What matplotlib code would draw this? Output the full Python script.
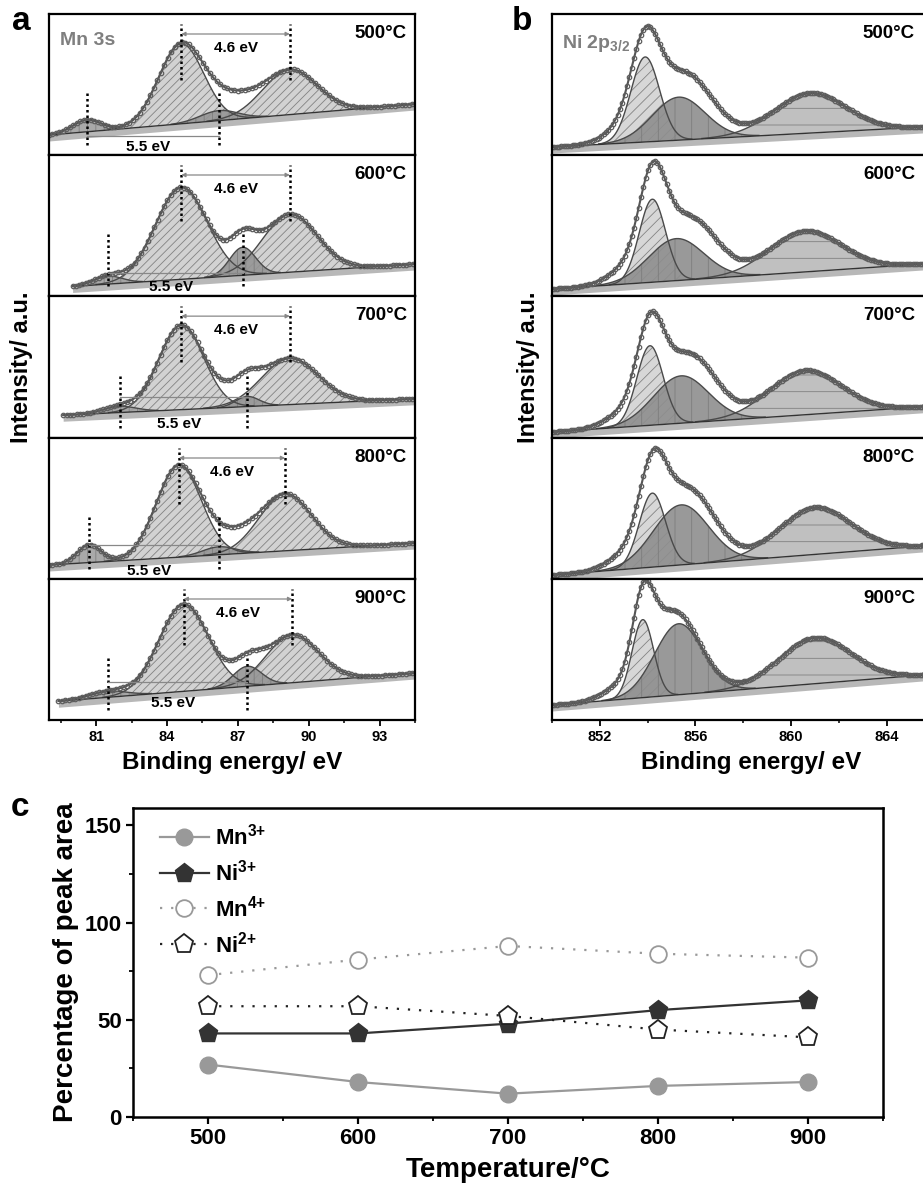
import numpy as np
import matplotlib.pyplot as plt
from matplotlib.ticker import MultipleLocator

plt.rcParams['font.family'] = ['Liberation Sans', 'DejaVu Sans']
plt.rcParams['font.weight'] = 'bold'
plt.rcParams['axes.labelweight'] = 'bold'
plt.rcParams['mathtext.fontset'] = 'custom'
plt.rcParams['mathtext.rm'] = 'Liberation Sans:bold'
plt.rcParams['mathtext.bf'] = 'Liberation Sans:bold'
plt.rcParams['mathtext.default'] = 'bf'
plt.rcParams['hatch.linewidth'] = 0.6

W, H = 923, 1193

temp_labels = ['500°C', '600°C', '700°C', '800°C', '900°C']

# ---- Mn 3s fits (centre eV, height, sigma) ----
mn_start = [79.0, 80.0, 79.6, 79.0, 79.4]
mn_bg_lo = [20, 8, 22, 14, 18]
mn_bg_hi = [51, 32, 39, 36, 47]
mn_main_pos = [84.6, 84.6, 84.6, 84.5, 84.7]
mn_main_amp = [80, 92, 84, 92, 87]
mn_main_sig = [0.95, 1.1, 0.95, 0.95, 1.05]
mn_split_pos = [89.2, 89.2, 89.2, 89.0, 89.3]
mn_split_amp = [45, 58, 46, 57, 48]
mn_split_sig = [1.15, 1.15, 1.2, 1.1, 1.1]
mn_low_pos = [80.6, 81.5, 82.0, 80.7, 81.5]
mn_low_amp = [12, 8, 6, 18, 6]
mn_low_sig = [0.6, 0.6, 0.7, 0.5, 0.8]
mn_sat_pos = [86.2, 87.2, 87.4, 86.2, 87.4]
mn_sat_amp = [10, 28, 10, 8, 20]
mn_sat_sig = [0.8, 0.55, 0.5, 0.7, 0.6]
mn_extra_pos = [87.1, 86.8, 87.0, 87.1, 87.5]
mn_extra_amp = [12, 0, 12, 10, 0]
mn_extra_sig = [0.8, 0.8, 0.8, 0.7, 0.8]

# ---- Ni 2p3/2 fits ----
ni_bg_lo = [8, 7, 6, 4, 15]
ni_bg_hi = [28, 32, 31, 33, 45]
ni_light_pos = [853.9, 854.2, 854.1, 854.2, 853.8]
ni_light_amp = [85, 83, 79, 74, 78]
ni_light_sig = [0.6, 0.55, 0.55, 0.55, 0.45]
ni_dark_pos = [855.3, 855.2, 855.4, 855.4, 855.3]
ni_dark_amp = [43, 42, 47, 60, 71]
ni_dark_sig = [1.1, 1.15, 1.15, 1.15, 1.0]
ni_sat_pos = [860.8, 860.6, 860.6, 861.0, 861.0]
ni_sat_amp = [40, 41, 44, 47, 46]
ni_sat_sig = [1.5, 1.5, 1.5, 1.5, 1.5]
ni_extra_pos = [855.9, 856.2, 856.1, 856.1, 854.6]
ni_extra_amp = [26, 28, 25, 20, 18]
ni_extra_sig = [1.1, 1.0, 1.0, 1.0, 0.7]
ni_tail_pos = [852.9, 853.1, 853.0, 853.1, 852.8]
ni_tail_amp = [12, 12, 12, 12, 12]
ni_tail_sig = [0.8, 0.8, 0.8, 0.8, 0.7]

# ---- panel c ----
temps = [500, 600, 700, 800, 900]
mn3 = [27, 18, 12, 16, 18]
ni3 = [43, 43, 48, 55, 60]
mn4 = [73, 81, 88, 84, 82]
ni2 = [57, 57, 52, 45, 41]


def px(x0, y0, x1, y1):
    return [x0 / W, 1 - y1 / H, (x1 - x0) / W, (y1 - y0) / H]


def gauss(x, c, a, s):
    return a * np.exp(-0.5 * ((x - c) / s) ** 2)


def draw_spec(ax, x, bg, comps, extra, step):
    ax.fill_between(x, bg - 6, bg, color='#b8b8b8', lw=0)
    total = bg.copy()
    for y, face, hatch in comps:
        m = y > 0.4
        ax.fill_between(x, bg, bg + y, where=m, facecolor=face, edgecolor='#7a7a7a',
                        hatch=hatch, lw=0, alpha=0.9)
        ax.plot(x[m], (bg + y)[m], color='#4a4a4a', lw=1.0)
        total = total + y
    total = total + extra
    ax.plot(x, bg, color='#333333', lw=1.0)
    ax.plot(x, total, color='#555555', lw=1.5)
    ax.plot(x[::step], total[::step], 'o', ms=3.2, mfc='none', mec='#5e5e5e', mew=0.9)


fig = plt.figure(figsize=(W / 100, H / 100), dpi=100)

bounds = [14, 155, 296, 438, 579, 720]

# ---------- panel a ----------
for i in range(5):
    ax = fig.add_axes(px(49, bounds[i], 415, bounds[i + 1]))
    ax.set_xlim(79.0, 94.5)
    ax.set_ylim(0, 141)
    x = np.linspace(mn_start[i], 94.5, 420)
    bg = mn_bg_lo[i] + (mn_bg_hi[i] - mn_bg_lo[i]) * (x - 79.0) / 15.5
    comps = [
        (gauss(x, mn_main_pos[i], mn_main_amp[i], mn_main_sig[i]), '#cdcdcd', '////'),
        (gauss(x, mn_split_pos[i], mn_split_amp[i], mn_split_sig[i]), '#cdcdcd', '////'),
        (gauss(x, mn_low_pos[i], mn_low_amp[i], mn_low_sig[i]), '#a0a0a0', '||'),
        (gauss(x, mn_sat_pos[i], mn_sat_amp[i], mn_sat_sig[i]), '#959595', '||'),
    ]
    extra = gauss(x, mn_extra_pos[i], mn_extra_amp[i], mn_extra_sig[i])
    draw_spec(ax, x, bg, comps, extra, 4)

    # 4.6 eV splitting marker
    p1, p2 = mn_main_pos[i], mn_split_pos[i]
    ax.plot([p1, p1], [75, 131], ls=(0, (1, 1.2)), color='k', lw=1.8)
    ax.plot([p2, p2], [75, 131], ls=(0, (1, 1.2)), color='k', lw=1.8)
    ax.annotate('', xy=(p2, 121), xytext=(p1, 121),
                arrowprops=dict(arrowstyle='<|-|>', color='#888888', lw=0.9,
                                mutation_scale=6, shrinkA=0, shrinkB=0))
    ax.text((p1 + p2) / 2, 107, '4.6 eV', ha='center', va='center', fontsize=11)
    # 5.5 eV marker
    q1, q2 = mn_low_pos[i], mn_sat_pos[i]
    y55 = [19, 23, 41, 34, 38][i]
    ax.plot([q1, q1], [10, 65], ls=(0, (1, 1.2)), color='k', lw=1.8)
    ax.plot([q2, q2], [10, 65], ls=(0, (1, 1.2)), color='k', lw=1.8)
    ax.plot([q1, q2], [y55, y55], color='#888888', lw=0.9)
    ax.text((q1 + q2) / 2 - 0.2, [8, 9, 14, 8, 17][i], '5.5 eV', ha='center', va='center',
            fontsize=11)

    ax.text(0.978, 0.865, temp_labels[i], transform=ax.transAxes, ha='right', va='center',
            fontsize=13.5)
    if i == 0:
        ax.text(0.03, 0.815, 'Mn 3s', transform=ax.transAxes, ha='left', va='center',
                fontsize=14, color='#7f7f7f')
    for s in ax.spines.values():
        s.set_linewidth(1.6)
    ax.set_yticks([])
    if i < 4:
        ax.set_xticks([])
    else:
        ax.set_xticks([81, 84, 87, 90, 93])
        ax.xaxis.set_minor_locator(MultipleLocator(1.5))
        ax.tick_params(axis='x', which='major', direction='out', length=4, width=1.3,
                       labelsize=10.5, pad=3)
        ax.tick_params(axis='x', which='minor', direction='out', length=2.5, width=1.1)
        for t in ax.get_xticklabels():
            t.set_fontweight('bold')

# ---------- panel b ----------
for i in range(5):
    ax = fig.add_axes(px(552, bounds[i], 926, bounds[i + 1]))
    ax.set_xlim(850.0, 865.65)
    ax.set_ylim(0, 141)
    x = np.linspace(850.0, 865.65, 480)
    bg = ni_bg_lo[i] + (ni_bg_hi[i] - ni_bg_lo[i]) * (x - 850.0) / 15.5
    comps = [
        (gauss(x, ni_sat_pos[i], ni_sat_amp[i], ni_sat_sig[i]), '#b9b9b9', '-'),
        (gauss(x, ni_light_pos[i], ni_light_amp[i], ni_light_sig[i]), '#d3d3d3', '///'),
        (gauss(x, ni_dark_pos[i], ni_dark_amp[i], ni_dark_sig[i]), '#8e8e8e', '|'),
    ]
    extra = (gauss(x, ni_extra_pos[i], ni_extra_amp[i], ni_extra_sig[i]) +
             gauss(x, ni_tail_pos[i], ni_tail_amp[i], ni_tail_sig[i]))
    draw_spec(ax, x, bg, comps, extra, 3)
    ax.text((915 - 552) / 374, 0.865, temp_labels[i], transform=ax.transAxes, ha='right',
            va='center', fontsize=13.5)
    if i == 0:
        ax.text(0.027, 0.79, 'Ni 2p$_{3/2}$', transform=ax.transAxes, ha='left',
                va='center', fontsize=14, color='#7f7f7f')
    for s in ax.spines.values():
        s.set_linewidth(1.6)
    ax.set_yticks([])
    if i < 4:
        ax.set_xticks([])
    else:
        ax.set_xticks([852, 856, 860, 864])
        ax.xaxis.set_minor_locator(MultipleLocator(2))
        ax.tick_params(axis='x', which='major', direction='out', length=4, width=1.3,
                       labelsize=10.5, pad=3)
        ax.tick_params(axis='x', which='minor', direction='out', length=2.5, width=1.1)
        for t in ax.get_xticklabels():
            t.set_fontweight('bold')

fig.text(22 / W, 1 - 367 / H, 'Intensity/ a.u.', rotation=90, ha='center', va='center',
         fontsize=17)
fig.text(528 / W, 1 - 367 / H, 'Intensity/ a.u.', rotation=90, ha='center', va='center',
         fontsize=17)
fig.text(232 / W, 1 - 763 / H, 'Binding energy/ eV', ha='center', va='center', fontsize=17.5)
fig.text(751 / W, 1 - 762 / H, 'Binding energy/ eV', ha='center', va='center', fontsize=17.5)
fig.text(21 / W, 1 - 22 / H, 'a', ha='center', va='center', fontsize=24)
fig.text(522 / W, 1 - 22 / H, 'b', ha='center', va='center', fontsize=24)
fig.text(20 / W, 1 - 808 / H, 'c', ha='center', va='center', fontsize=24)

# ---------- panel c ----------
axc = fig.add_axes(px(133, 808, 883, 1117))
axc.plot(temps, mn3, '-o', color='#999999', lw=1.6, ms=12, mfc='#999999', mec='#999999',
         label='Mn$^{3{+}}$')
axc.plot(temps, ni3, '-p', color='#333333', lw=1.6, ms=14, mfc='#333333', mec='#333333',
         label='Ni$^{3{+}}$')
axc.plot(temps, mn4, ls=(0, (1, 4)), marker='o', color='#999999', lw=1.6, ms=12,
         mfc='white', mec='#999999', mew=1.3, label='Mn$^{4{+}}$')
axc.plot(temps, ni2, ls=(0, (1, 4)), marker='p', color='#222222', lw=1.6, ms=14,
         mfc='white', mec='#222222', mew=1.3, label='Ni$^{2{+}}$')
axc.set_xlim(450, 950)
axc.set_ylim(0, 159)
axc.set_xticks([500, 600, 700, 800, 900])
axc.xaxis.set_minor_locator(MultipleLocator(50))
axc.set_yticks([0, 50, 100, 150])
axc.yaxis.set_minor_locator(MultipleLocator(25))
axc.tick_params(which='major', direction='out', length=5, width=1.6, labelsize=16, pad=3)
axc.tick_params(which='minor', direction='out', length=3, width=1.3)
for t in axc.get_xticklabels() + axc.get_yticklabels():
    t.set_fontweight('bold')
for s in axc.spines.values():
    s.set_linewidth(1.8)
axc.set_xlabel('Temperature/°C', fontsize=20, fontweight='bold', labelpad=6)
axc.set_ylabel('Percentage of peak area', fontsize=20, fontweight='bold', labelpad=4)
axc.legend(loc='upper left', bbox_to_anchor=(0.015, 1.0), frameon=False, fontsize=16,
           handlelength=2.2, handletextpad=0.3, labelspacing=0.45, borderaxespad=0.3)

fig.savefig('out.png', dpi=100)
